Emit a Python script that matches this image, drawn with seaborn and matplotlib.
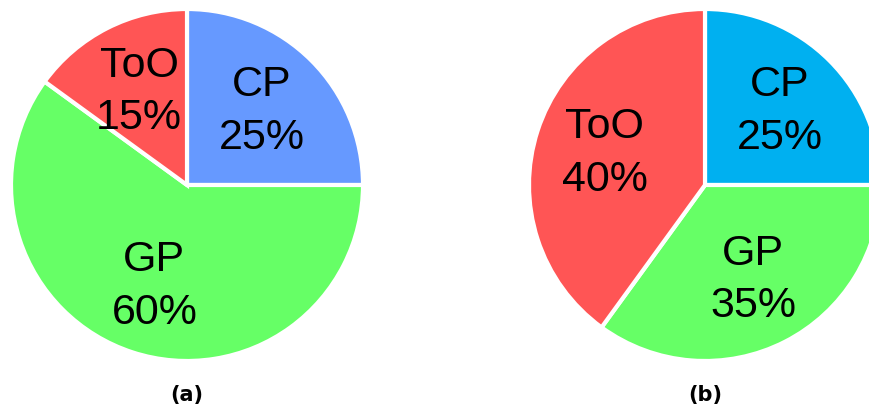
import seaborn as sns
import matplotlib.pyplot as plt

names = ['CP', 'GP', 'ToO']
shares_a = [25, 60, 15]
shares_b = [25, 35, 40]
colors_a = ['#6699FF', '#66FF66', '#FF5555']
colors_b = ['#00B0F0', '#66FF66', '#FF5555']
captions = ['(a)', '(b)']

sns.set_style('white')
plt.rcParams['font.family'] = ['Liberation Sans', 'DejaVu Sans']

W, H = 869, 414
fig = plt.figure(figsize=(W / 100, H / 100), dpi=100)

r = 176
centers = [(187, 186), (705, 186)]


def draw_pie(ax, shares, colors):
    it = iter(names)
    ax.pie(shares, colors=sns.color_palette(colors), startangle=90, counterclock=False,
           autopct=lambda p: f'{next(it)}\n{p:.0f}%', pctdistance=0.6,
           wedgeprops=dict(edgecolor='white', linewidth=3),
           textprops=dict(fontsize=31, color='black', linespacing=1.4))
    ax.set_xlim(-1, 1)
    ax.set_ylim(-1, 1)
    ax.set_aspect('equal')
    ax.axis('off')


for (cx, cy), shares, colors in zip(centers, [shares_a, shares_b], [colors_a, colors_b]):
    ax = fig.add_axes([(cx - r) / W, (H - cy - r) / H, 2 * r / W, 2 * r / H])
    draw_pie(ax, shares, colors)

for (cx, cy), cap in zip(centers, captions):
    fig.text(cx / W, (H - 395) / H, cap, ha='center', va='center', color='black',
             fontsize=15, fontweight='bold', family='DejaVu Sans')

fig.savefig('out.png', dpi=100)
